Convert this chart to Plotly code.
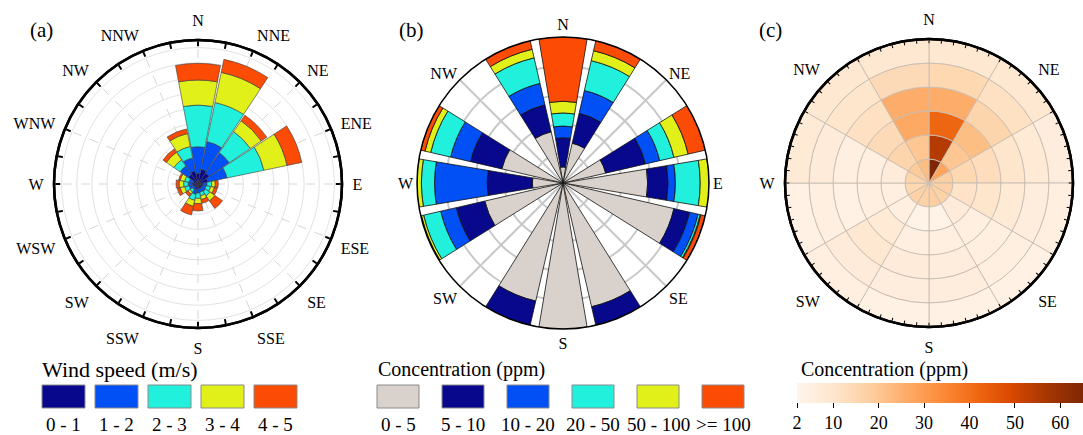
import plotly.graph_objects as go

W, H = 1083, 435
FONT = "Liberation Serif"

# ---------------- data ----------------
directions16 = ["N", "NNE", "NE", "ENE", "E", "ESE", "SE", "SSE",
                "S", "SSW", "SW", "WSW", "W", "WNW", "NW", "NNW"]
theta16 = [i * 22.5 for i in range(16)]

# Panel (a): wind rose, frequency per speed bin (%)
speed_bins = ["0 - 1", "1 - 2", "2 - 3", "3 - 4", "4 - 5"]
speed_colors = ["#08088c", "#0050f5", "#20f0dc", "#e2f01a", "#fb4b05"]
speed_0_1 = [0.70, 0.99, 0.88, 0.66, 0.35, 0.30, 0.30, 0.30, 0.30, 0.35, 0.25, 0.30, 0.35, 0.30, 0.77, 0.88]
speed_1_2 = [1.76, 1.87, 1.62, 1.30, 0.25, 0.25, 0.30, 0.25, 0.30, 0.35, 0.20, 0.30, 0.30, 0.30, 0.66, 0.88]
speed_2_3 = [2.75, 2.63, 1.68, 2.48, 0.30, 0.30, 0.35, 0.25, 0.35, 0.40, 0.20, 0.30, 0.30, 0.30, 0.50, 0.77]
speed_3_4 = [1.65, 2.03, 0.87, 1.56, 0.24, 0.25, 0.40, 0.25, 0.35, 0.40, 0.15, 0.30, 0.30, 0.30, 0.60, 0.87]
speed_4_5 = [1.10, 0.88, 0.44, 0.99, 0.20, 0.20, 0.60, 0.25, 0.48, 0.59, 0.20, 0.20, 0.20, 0.10, 0.27, 0.31]
speed_series = [speed_0_1, speed_1_2, speed_2_3, speed_3_4, speed_4_5]

# Panel (b): share of each concentration class per direction (%)
conc_bins = ["0 - 5", "5 - 10", "10 - 20", "20 - 50", "50 - 100", ">= 100"]
conc_colors = ["#d9d1cb", "#08088c", "#0050f5", "#20f0dc", "#e2f01a", "#fb4b05"]
conc_0_5 = [11, 28, 0, 30, 58, 78, 0, 87, 100, 83, 0, 55, 21, 43, 0, 36]
conc_5_10 = [20, 21, 0, 28, 14, 11, 0, 13, 0, 17, 0, 20, 31, 22, 0, 19]
conc_10_20 = [8, 16, 0, 10, 5, 6, 0, 0, 0, 0, 0, 11, 36, 14, 0, 15]
conc_20_50 = [9, 21, 0, 10, 17, 1.5, 0, 0, 0, 0, 0, 12, 9, 14, 0, 18]
conc_50_100 = [8, 7, 0, 10, 6, 0.5, 0, 0, 0, 0, 0, 1.5, 3, 4, 0, 6]
conc_ge_100 = [44, 7, 0, 12, 0, 3, 0, 0, 0, 0, 0, 0.5, 0, 3, 0, 6]
conc_series = [conc_0_5, conc_5_10, conc_10_20, conc_20_50, conc_50_100, conc_ge_100]

# Panel (c): mean concentration (ppm) per 30-degree sector and distance ring
sector_theta = [15 + 30 * i for i in range(12)]
ring_1 = [65, 28, 18, 17, 17, 18, 17, 17, 15, 16, 19, 22]
ring_2 = [55, 20, 15, 11, 7, 3, 3, 5, 5, 7, 16, 20]
ring_3 = [42, 22, 13, 10, 5, 5, 5, 8, 5, 5, 14, 27]
ring_4 = [26, 16, 10, 8, 5, 6, 7, 9, 4, 5, 12, 26]
ring_5 = [15, 12, 8, 6, 5, 6, 6, 7, 5, 7, 10, 14]
ring_6 = [9, 9, 6, 5, 4, 4, 4, 5, 4, 8, 9, 9]
rings = [ring_1, ring_2, ring_3, ring_4, ring_5, ring_6]
cbar_ticks = [2, 10, 20, 30, 40, 50, 60]
c_min, c_max = 2, 65

labels8 = ["N", "NE", "E", "SE", "S", "SW", "W", "NW"]

# ---------------- helpers ----------------
def px_x(x):
    return x / W

def px_y(y):
    return 1 - y / H

def dom(cx, cy, r):
    return dict(x=[px_x(cx - r), px_x(cx + r)], y=[px_y(cy + r), px_y(cy - r)])

fig = go.Figure()

# Panel (a)
for vals, name, col in zip(speed_series, speed_bins, speed_colors):
    fig.add_trace(go.Barpolar(r=vals, theta=theta16, width=[21.5] * 16, name=name,
                              marker=dict(color=col, line=dict(color="#3a3a3a", width=0.6)),
                              subplot="polar", showlegend=False, hoverinfo="skip"))
# Panel (b)
for vals, name, col in zip(conc_series, conc_bins, conc_colors):
    rv = [v if v > 0 else None for v in vals]
    fig.add_trace(go.Barpolar(r=rv, theta=theta16, width=[19] * 16, name=name,
                              marker=dict(color=col, line=dict(color="#111111", width=0.8)),
                              subplot="polar2", showlegend=False, hoverinfo="skip"))
# Panel (c)
for k, ring in enumerate(rings):
    fig.add_trace(go.Barpolar(r=[1] * 12, base=[k] * 12, theta=sector_theta, width=[30] * 12,
                              marker=dict(color=ring, coloraxis="coloraxis",
                                          line=dict(color="#c8bdb2", width=0.9)),
                              subplot="polar3", showlegend=False, hoverinfo="skip"))
# invisible traces for overlay tick subplots
fig.add_trace(go.Scatterpolar(r=[None], theta=[None], subplot="polar4", showlegend=False))
fig.add_trace(go.Scatterpolar(r=[None], theta=[None], subplot="polar5", showlegend=False))

tick_font = dict(family=FONT, size=16, color="black")

common_radial_hidden = dict(showticklabels=False, ticks="", showline=False)

fig.update_layout(
    width=W, height=H, margin=dict(l=0, r=0, t=0, b=0, autoexpand=False),
    paper_bgcolor="white", plot_bgcolor="white",
    polar=dict(
        domain=dom(198, 184, 144), bgcolor="white", barmode="stack",
        angularaxis=dict(direction="clockwise", rotation=90, tickmode="array",
                         tickvals=theta16, ticktext=directions16, ticks="outside",
                         ticklen=6, tickcolor="rgba(0,0,0,0)", showline=True,
                         linecolor="black", linewidth=2.5, showgrid=True,
                         gridcolor="#d6d6d6", griddash="dash", gridwidth=1,
                         tickfont=tick_font),
        radialaxis=dict(range=[0, 9.5], tickvals=list(range(1, 10)), gridcolor="#e2e2e2",
                        gridwidth=1, **common_radial_hidden),
    ),
    polar4=dict(
        domain=dom(198, 184, 144), bgcolor="rgba(0,0,0,0)",
        angularaxis=dict(direction="clockwise", rotation=90, tickmode="array",
                         tickvals=[i * 11.25 for i in range(32)], showticklabels=False,
                         ticks="inside", ticklen=5, tickwidth=1.5, tickcolor="black",
                         showline=True, linecolor="black", linewidth=2.5, showgrid=False),
        radialaxis=dict(range=[0, 1], showgrid=False, visible=False),
    ),
    polar2=dict(
        domain=dom(563, 183, 146), bgcolor="white", barmode="stack",
        angularaxis=dict(direction="clockwise", rotation=90, tickmode="array",
                         tickvals=[i * 45 for i in range(8)], ticktext=labels8, ticks="",
                         showline=True, linecolor="black", linewidth=1.5, showgrid=True,
                         gridcolor="#c8c8c8", gridwidth=1.5, tickfont=tick_font),
        radialaxis=dict(range=[0, 100], tickvals=[20, 40, 60, 80], gridcolor="#c8c8c8",
                        gridwidth=1.5, **common_radial_hidden),
    ),
    polar3=dict(
        domain=dom(929, 183, 144), bgcolor="white", barmode="overlay",
        angularaxis=dict(direction="clockwise", rotation=90, tickmode="array",
                         tickvals=[i * 45 for i in range(8)], ticktext=labels8, ticks="outside",
                         ticklen=6, tickcolor="rgba(0,0,0,0)", showline=True,
                         linecolor="black", linewidth=2.5, showgrid=False, tickfont=tick_font),
        radialaxis=dict(range=[0, 6], showgrid=False, **common_radial_hidden),
    ),
    polar5=dict(
        domain=dom(929, 183, 144), bgcolor="rgba(0,0,0,0)",
        angularaxis=dict(direction="clockwise", rotation=90, tickmode="linear", tick0=0, dtick=5,
                         showticklabels=False, ticks="inside", ticklen=3, tickwidth=1,
                         tickcolor="black", showline=True, linecolor="black", linewidth=2.5,
                         showgrid=False),
        radialaxis=dict(range=[0, 1], showgrid=False, visible=False),
    ),
    coloraxis=dict(
        colorscale="Oranges", cmin=c_min, cmax=c_max,
        colorbar=dict(orientation="h", x=px_x(797), xanchor="left", y=px_y(383), yanchor="top",
                      len=(W - 797) / W, lenmode="fraction", thickness=20, outlinewidth=0,
                      ypad=0, xpad=0,
                      tickmode="array", tickvals=cbar_ticks, ticks="outside", ticklen=5,
                      tickcolor="black", tickfont=dict(family=FONT, size=18, color="black")),
    ),
)

annotations = []
shapes = []
for txt, x in [("(a)", 28), ("(b)", 397), ("(c)", 757)]:
    annotations.append(dict(text=txt, x=px_x(x), y=px_y(30), xref="paper", yref="paper",
                            xanchor="left", yanchor="middle", showarrow=False,
                            font=dict(family=FONT, size=21, color="black")))

# legend (a)
annotations.append(dict(text="Wind speed (m/s)", x=px_x(40), y=px_y(369), xref="paper", yref="paper",
                        xanchor="left", yanchor="middle", showarrow=False,
                        font=dict(family=FONT, size=22, color="black")))
for i, (name, col) in enumerate(zip(speed_bins, speed_colors)):
    x0 = 42 + 53 * i
    shapes.append(dict(type="rect", xref="paper", yref="paper", x0=px_x(x0), x1=px_x(x0 + 43),
                       y0=px_y(408), y1=px_y(385), fillcolor=col, line=dict(color="#8a8a8a", width=1)))
    annotations.append(dict(text=name, x=px_x(x0 + 21.5), y=px_y(424), xref="paper", yref="paper",
                            xanchor="center", yanchor="middle", showarrow=False,
                            font=dict(family=FONT, size=19, color="black")))
# legend (b)
annotations.append(dict(text="Concentration (ppm)", x=px_x(376), y=px_y(369), xref="paper", yref="paper",
                        xanchor="left", yanchor="middle", showarrow=False,
                        font=dict(family=FONT, size=20, color="black")))
for i, (name, col) in enumerate(zip(conc_bins, conc_colors)):
    x0 = 377 + 65 * i
    shapes.append(dict(type="rect", xref="paper", yref="paper", x0=px_x(x0), x1=px_x(x0 + 42),
                       y0=px_y(408), y1=px_y(385), fillcolor=col, line=dict(color="#8a8a8a", width=1)))
    annotations.append(dict(text=name, x=px_x(x0 + 21), y=px_y(424), xref="paper", yref="paper",
                            xanchor="center", yanchor="middle", showarrow=False,
                            font=dict(family=FONT, size=19, color="black")))
# colorbar title (c)
annotations.append(dict(text="Concentration (ppm)", x=px_x(799), y=px_y(369), xref="paper", yref="paper",
                        xanchor="left", yanchor="middle", showarrow=False,
                        font=dict(family=FONT, size=20, color="black")))

fig.update_layout(annotations=annotations, shapes=shapes)
fig.write_html("out.html")
